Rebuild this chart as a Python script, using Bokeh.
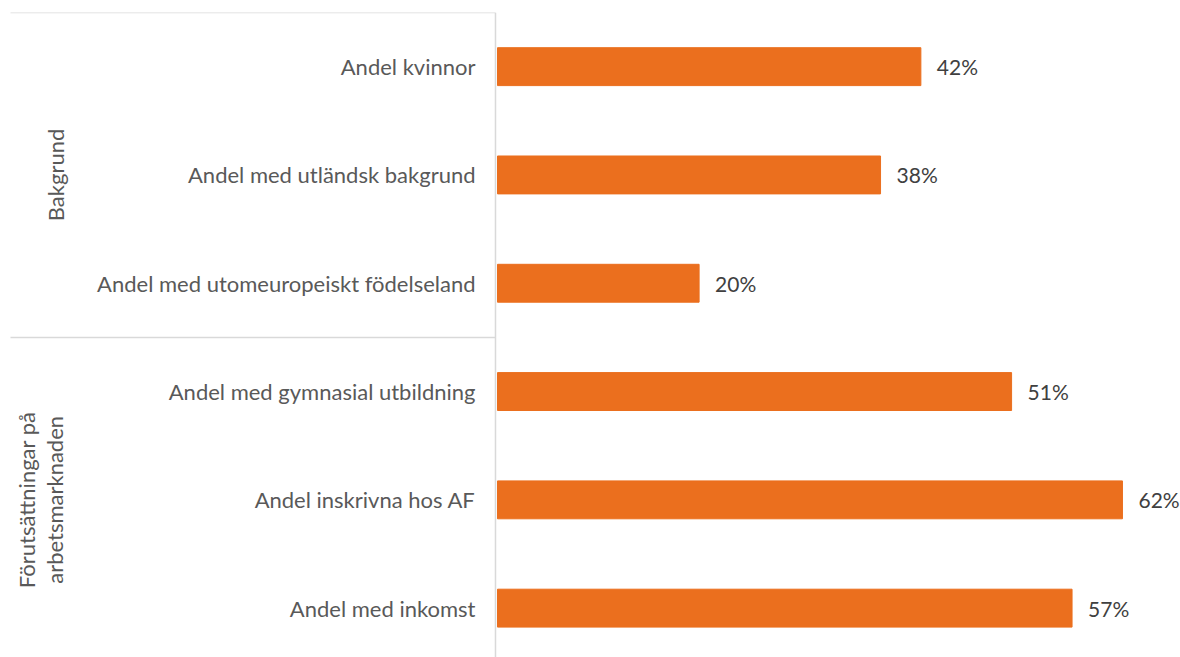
from bokeh.plotting import figure
from bokeh.models import Range1d, ColumnDataSource
from bokeh.core.properties import value
from bokeh.embed import file_html
from bokeh.resources import INLINE
import math

categories = [
    "Andel kvinnor",
    "Andel med utländsk bakgrund",
    "Andel med utomeuropeiskt födelseland",
    "Andel med gymnasial utbildning",
    "Andel inskrivna hos AF",
    "Andel med inkomst",
]
values = [42, 38, 20, 51, 62, 57]
groups = ["Bakgrund", "Förutsättningar på\narbetsmarknaden"]
group_sizes = [3, 3]

W, H = 1180, 657
left_px = 497          # px from figure left to value 0
top_px = 12
scale = 10.08          # px per percent
x_start = -left_px / scale
x_end = (W - left_px) / scale
band_px = 108.3
frame_h = H - top_px
y_end_val = -0.5 + frame_h / band_px

FONT = value("Lato")
FS = "22px"
BAR = "#EB6F1E"

p = figure(width=W, height=H, output_backend="svg", toolbar_location=None,
           x_range=Range1d(x_start, x_end), y_range=Range1d(y_end_val, -0.5),
           min_border_left=0, min_border_right=0, min_border_top=top_px, min_border_bottom=0)
p.axis.visible = False
p.grid.visible = False
p.outline_line_color = None

ys = list(range(len(categories)))
src = ColumnDataSource(dict(y=ys, v=values, cat=categories,
                            lab=[f"{v}%" for v in values]))

p.hbar(y="y", left=0, right="v", height=0.35, color=BAR, source=src)

# category labels
p.text(x=0, y="y", text="cat", source=src, x_offset=-22, text_align="right",
       text_baseline="middle", text_font=FONT, text_font_size=FS,
       text_color="#595959")
# value labels
p.text(x="v", y="y", text="lab", source=src, x_offset=16, text_align="left",
       text_baseline="middle", text_font=FONT, text_font_size="21px",
       text_color="#404040")

# axis line
line_col = "#D9D9D9"
p.segment(x0=[-0.2], y0=[-0.5], x1=[-0.2], y1=[y_end_val], line_color=line_col, line_width=1.5)

# group separators and labels
sep_x0 = x_start + 10 / scale
start = 0
gy = []
for g, n in zip(groups, group_sizes):
    top = start - 0.5
    p.segment(x0=[sep_x0], y0=[top], x1=[-0.2], y1=[top], line_color=line_col, line_width=1.5)
    gy.append(start + (n - 1) / 2)
    start += n

p.text(x=[x_start + 55 / scale], y=[gy[0]], text=[groups[0]], angle=math.pi / 2,
       text_align="center", text_baseline="middle", text_font=FONT,
       text_font_size=FS, text_color="#595959")
p.text(x=[x_start + 40 / scale], y=[gy[1]], text=[groups[1]], angle=math.pi / 2,
       text_align="center", text_baseline="middle", text_font=FONT,
       text_font_size=FS, text_color="#595959", text_line_height=1.05)

open("out.html", "w").write(file_html(p, INLINE))
